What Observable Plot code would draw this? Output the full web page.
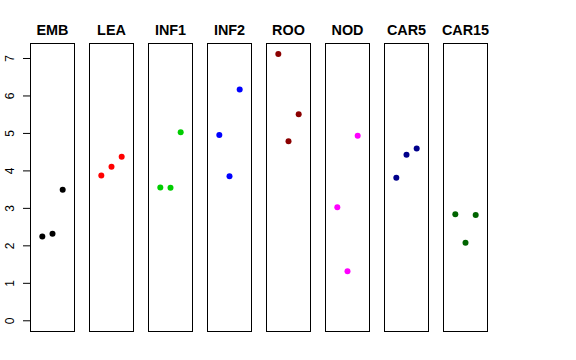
<!DOCTYPE html>
<html>
<head>
<meta charset="utf-8">
<script src="https://cdn.jsdelivr.net/npm/d3@7"></script>
<script src="https://cdn.jsdelivr.net/npm/@observablehq/plot@0.6"></script>
<style>
  html, body { margin: 0; padding: 0; background: #fff; }
  #chart svg { display: block; }
</style>
</head>
<body>
<div id="chart"></div>
<script>
const groups = ["EMB", "LEA", "INF1", "INF2", "ROO", "NOD", "CAR5", "CAR15"];
const colors = ["#000000", "#FF0000", "#00CD00", "#0000FF", "#8B0000", "#FF00FF", "#00008B", "#006400"];
const rep1 = [2.25, 3.88, 3.56, 4.96, 7.12, 3.03, 3.82, 2.84];
const rep2 = [2.32, 4.11, 3.55, 3.86, 4.79, 1.32, 4.43, 2.08];
const rep3 = [3.50, 4.38, 5.03, 6.17, 5.51, 4.94, 4.60, 2.82];
const yTicks = [0, 1, 2, 3, 4, 5, 6, 7];

const points = [];
groups.forEach((g, i) => {
  [rep1, rep2, rep3].forEach((arr, j) => {
    points.push({group: g, rep: j + 1, value: arr[i], color: colors[i]});
  });
});

const chart = Plot.plot({
  width: 576,
  height: 360,
  marginTop: 43,
  marginBottom: 29,
  marginLeft: 29,
  marginRight: 88,
  style: {fontFamily: "'Liberation Sans', Arial, Helvetica, sans-serif", background: "#fff", color: "#000"},
  fx: {domain: groups, paddingInner: 0.246, paddingOuter: 0, axis: null, label: null},
  x: {domain: [-0.16, 4.16], axis: null},
  y: {domain: [-0.286, 7.40], axis: null},
  marks: [
    Plot.frame({stroke: "#000", strokeWidth: 1}),
    Plot.dot(points, {fx: "group", x: "rep", y: "value", r: 3, fill: d => d.color, stroke: null}),
    Plot.text(groups, {fx: d => d, text: d => d, frameAnchor: "top", dy: -9, lineAnchor: "bottom",
      fontSize: 14.4, fontWeight: "bold", fill: "#000"}),
    Plot.axisY({ticks: yTicks, tickSize: 7, tickFormat: () => "", label: null, stroke: "#000"}),
    Plot.text(yTicks, {fx: () => groups[0], y: d => d, text: d => String(d), frameAnchor: "left",
      dx: -17, rotate: -90, lineAnchor: "bottom", textAnchor: "middle", fontSize: 12, fill: "#000"})
  ]
});

document.getElementById("chart").appendChild(chart);
</script>
</body>
</html>
